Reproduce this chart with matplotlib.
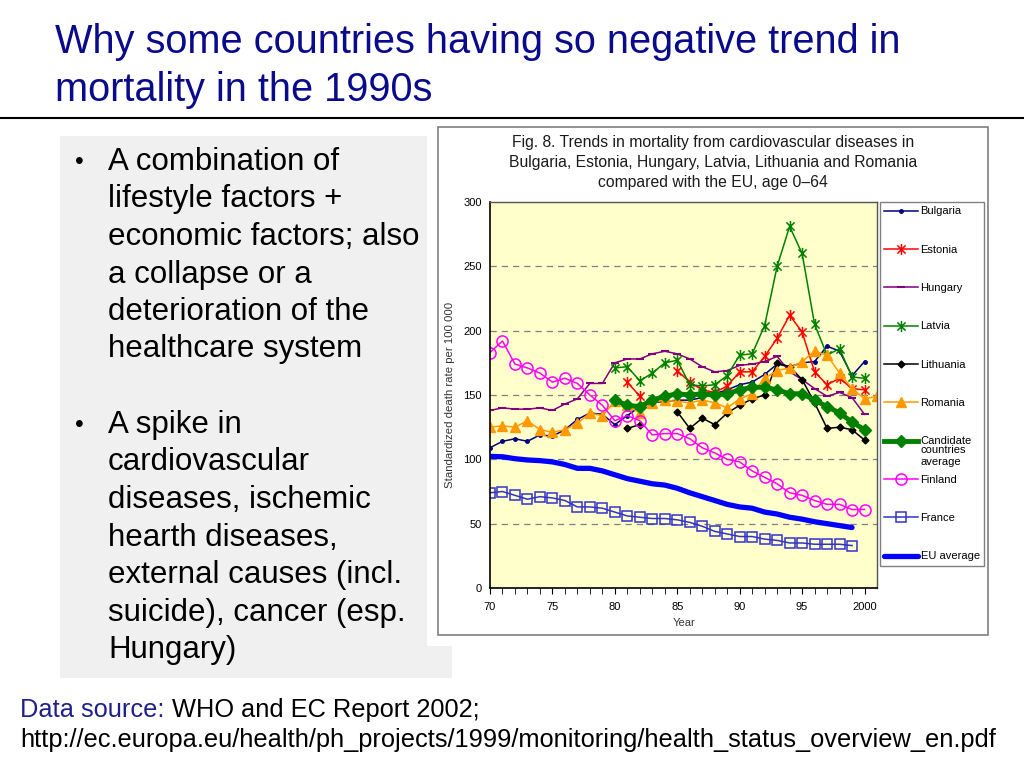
import numpy as np
import matplotlib
matplotlib.use("Agg")
import matplotlib.pyplot as plt
from matplotlib.patches import Rectangle
from matplotlib.path import Path
from matplotlib import font_manager as fm

names = {f.name for f in fm.fontManager.ttflist}
BASE = 'Liberation Sans' if 'Liberation Sans' in names else 'DejaVu Sans'
NARROW = 'Liberation Sans Narrow' if 'Liberation Sans Narrow' in names else BASE
plt.rcParams['font.family'] = [BASE, 'DejaVu Sans']

nan = np.nan
# ---------------- data ----------------
years = list(range(70, 101))          # 1970 .. 2000
years_ro = list(range(70, 102))       # Romania has a 2001 point
years_eu = list(range(70, 100))       # France / EU end in 1999

bulgaria = [109, 114, 116, 114, 119, 118, 123, 131, 136, 135,
            127, 134, 141, 144, 145, 146, 146, 148, 151, 154,
            158, 160, 166, 174, 172, 175, 176, 188, 184, 165, 176]
estonia = [nan] * 11 + [160, 149, nan, nan, 169, 160, 154, 152, 157,
                        168, 168, 180, 194, 212, 199, 168, 158, 163, 155, 154]
hungary = [138, 140, 139, 139, 140, 138, 143, 147, 159, 159,
           175, 178, 178, 182, 184, 182, 178, 172, 168, 169,
           173, 174, 176, 180, 168, 162, 155, 149, 152, 148, 135]
latvia = [nan] * 10 + [171, 172, 161, 167, 175, 177, 158, 157, 158, 165,
                       181, 182, 204, 250, 281, 260, 205, 181, 186, 164, 163]
lithuania = [nan] * 11 + [124, 127, nan, nan, 137, 124, 132, 127, 136,
                          142, 147, 150, 175, 172, 162, 144, 124, 125, 123, 115]
romania = [125, 126, 125, 130, 123, 121, 123, 128, 136, 134,
           145, 142, 136, 144, 146, 145, 144, 146, 144, 140,
           147, 151, 163, 169, 171, 176, 184, 181, 167, 155, 147, 149]
candidate = [nan] * 10 + [146, 142, 141, 146, 149, 151, 150, 151, 150, 151,
                          154, 156, 156, 154, 151, 151, 146, 141, 136, 129, 123]
finland = [183, 192, 174, 171, 167, 160, 163, 159, 150, 142,
           130, 134, 130, 119, 120, 120, 116, 109, 105, 100,
           98, 91, 86, 81, 74, 72, 68, 65, 65, 61, 61]
france = [74, 75, 72, 69, 71, 70, 68, 63, 63, 62,
          59, 56, 55, 54, 54, 53, 51, 48, 44, 42,
          40, 40, 38, 37, 35, 35, 34, 34, 34, 33]
eu_avg = [102.3, 102, 100.5, 99.5, 99, 98, 96, 93, 93, 91,
          88, 85, 83, 81, 80, 77.5, 74, 71, 68, 65,
          63, 62, 59, 57.5, 55, 53.5, 51.5, 50, 48.5, 47]

xtick_pos = [70, 75, 80, 85, 90, 95, 100]
xtick_labels = ['70', '75', '80', '85', '90', '95', '2000']
ytick_pos = [0, 50, 100, 150, 200, 250, 300]

title_lines = ["Why some countries having so negative trend in",
               "mortality in the 1990s"]
bullet1 = ["A combination of", "lifestyle factors +", "economic factors; also",
           "a collapse or a", "deterioration of the", "healthcare system"]
bullet2 = ["A spike in", "cardiovascular", "diseases, ischemic", "hearth diseases,",
           "external causes (incl.", "suicide), cancer (esp.", "Hungary)"]
chart_title = ["Fig. 8. Trends in mortality from cardiovascular diseases in",
               "Bulgaria, Estonia, Hungary, Latvia, Lithuania and Romania",
               "compared with the EU, age 0\u201364"]

# ---------------- figure ----------------
W, H = 1024, 768
fig = plt.figure(figsize=(W / 100, H / 100), dpi=100)
fig.patch.set_facecolor('white')


def fx(x):
    return x / W


def fy(y):
    return 1 - y / H


def frect(x0, y0, x1, y1, **kw):
    r = Rectangle((fx(x0), fy(y1)), fx(x1) - fx(x0), fy(y0) - fy(y1),
                  transform=fig.transFigure, **kw)
    fig.add_artist(r)
    return r


# background panels
frect(60, 136, 452, 678, facecolor='#F0F0F0', edgecolor='none', zorder=-3)
frect(427, 124, 992, 646, facecolor='white', edgecolor='none', zorder=-2)
frect(438, 127, 988, 635, facecolor='white', edgecolor='#7F7F7F', lw=1.2, zorder=-1)

# rule under title
fig.add_artist(plt.Line2D([0, 1], [fy(118), fy(118)], transform=fig.transFigure,
                          color='black', lw=1.5))

renderer = fig.canvas.get_renderer()


def fit(t, width_px):
    w = t.get_window_extent(renderer).width
    t.set_fontsize(t.get_fontsize() * width_px / w)


title_color = '#0A0A8C'
t1 = fig.text(fx(55), fy(42), title_lines[0], color=title_color, fontsize=26,
              va='center', ha='left', family=[NARROW, 'DejaVu Sans'])
fit(t1, 845)
t2 = fig.text(fx(55), fy(90), title_lines[1], color=title_color,
              fontsize=t1.get_fontsize(), va='center', ha='left',
              family=[NARROW, 'DejaVu Sans'])

# bullets
probe = fig.text(0, 0, bullet1[2], fontsize=20)
fit(probe, 310)
bfs = probe.get_fontsize()
probe.remove()
for i, line in enumerate(bullet1):
    fig.text(fx(108), fy(162 + i * 37.5), line, fontsize=bfs, va='center', ha='left')
for i, line in enumerate(bullet2):
    fig.text(fx(108), fy(425 + i * 37.5), line, fontsize=bfs, va='center', ha='left')
fig.text(fx(75), fy(162), '\u2022', fontsize=bfs * 0.8, va='center', ha='left')
fig.text(fx(75), fy(425), '\u2022', fontsize=bfs * 0.8, va='center', ha='left')

# footnote
f3 = fig.text(fx(20), fy(740),
              'http://ec.europa.eu/health/ph_projects/1999/monitoring/health_status_overview_en.pdf',
              color='black', fontsize=15, va='center', ha='left',
              family=[NARROW, 'DejaVu Sans'])
fit(f3, 977)
ffs = f3.get_fontsize()
f1 = fig.text(fx(20), fy(710), 'Data source:', color='#1F1F8A', fontsize=ffs,
              va='center', ha='left', family=[NARROW, 'DejaVu Sans'])
f2 = fig.text(fx(172), fy(710), 'WHO and EC Report 2002;', color='black',
              fontsize=ffs, va='center', ha='left', family=[NARROW, 'DejaVu Sans'])

# chart title
ct = []
for i, (line, yy) in enumerate(zip(chart_title, [142, 162.5, 183])):
    ct.append(fig.text(fx(713), fy(yy), line, fontsize=10.5, va='center', ha='center',
                       color='#1A1A1A'))
fit(ct[0], 406)
for t in ct[1:]:
    t.set_fontsize(ct[0].get_fontsize())

# ---------------- axes ----------------
ax = fig.add_axes([fx(490), fy(588), fx(877) - fx(490), fy(202) - fy(588)])
ax.set_facecolor('#FFFFCC')
ax.set_xlim(70, 101)
ax.set_ylim(0, 300)

star = Path([(-1, -1), (1, 1), (-1, 1), (1, -1), (0, -1.35), (0, 1.35)],
            [Path.MOVETO, Path.LINETO, Path.MOVETO, Path.LINETO, Path.MOVETO, Path.LINETO])

lines = []
lines.append(ax.plot(years, bulgaria, color='#000080', lw=1.1, marker='o', ms=2.5,
                     label='Bulgaria')[0])
lines.append(ax.plot(years, estonia, color='#FF0000', lw=1.1, marker=star, ms=8,
                     mew=1.1, mfc='none', label='Estonia')[0])
lines.append(ax.plot(years, hungary, color='#800080', lw=1.1, marker='_', ms=6,
                     mew=1.5, label='Hungary')[0])
lines.append(ax.plot(years, latvia, color='#008000', lw=1.1, marker=star, ms=8,
                     mew=1.1, mfc='none', label='Latvia')[0])
lines.append(ax.plot(years, lithuania, color='#000000', lw=1.1, marker='D', ms=3.5,
                     label='Lithuania')[0])
lines.append(ax.plot(years_ro, romania, color='#FF9900', lw=1.1, marker='^', ms=7,
                     label='Romania', clip_on=True)[0])
lines.append(ax.plot(years, candidate, color='#008000', lw=3.5, marker='D', ms=6,
                     label='Candidate')[0])
lines.append(ax.plot(years, finland, color='#FF00FF', lw=1.1, marker='o', ms=8,
                     mfc='none', mew=1.1, label='Finland')[0])
lines.append(ax.plot(years_eu, france, color='#3333CC', lw=1.1, marker='s', ms=7,
                     mfc='none', mew=1.1, label='France')[0])
lines.append(ax.plot(years_eu, eu_avg, color='#0000FF', lw=3.8, label='EU average',
                     solid_capstyle='round')[0])

for yv in [50, 100, 150, 200, 250]:
    ax.axhline(yv, color='#808080', lw=0.9, ls=(0, (5, 4)), zorder=0.5)

ax.set_yticks(ytick_pos)
ax.set_xticks(xtick_pos)
ax.set_xticklabels(xtick_labels)
ax.set_xticks(range(70, 101), minor=True)
ax.tick_params(axis='x', which='both', direction='out', length=4, labelsize=8,
               color='black', pad=6)
ax.tick_params(axis='y', which='both', direction='out', length=0, labelsize=8, pad=6)
for s in ['left', 'bottom']:
    ax.spines[s].set_color('black')
    ax.spines[s].set_linewidth(1.2)
for s in ['top', 'right']:
    ax.spines[s].set_color('#555555')
    ax.spines[s].set_linewidth(1.0)

yl = fig.text(fx(450), fy(395), 'Standardized death rate per 100 000', fontsize=7,
              va='center', ha='center', color='#333333')
fit(yl, 186)
yl.set_rotation(90)
fig.text(fx(684), fy(623), 'Year', fontsize=8, va='center', ha='center', color='#333333')

leg = ax.legend(handles=lines, loc='upper left', bbox_to_anchor=(fx(880), fy(202)),
                bbox_transform=fig.transFigure, borderaxespad=0, fontsize=8,
                frameon=True, fancybox=False, framealpha=1, edgecolor='#808080',
                handlelength=3.0, handletextpad=0.25, labelspacing=2.55,
                borderpad=0.4)
leg.get_frame().set_linewidth(1.0)

fig.canvas.draw()
r = fig.canvas.get_renderer()
cand_text = leg.get_texts()[6]
bb = cand_text.get_window_extent(r)
fig.text(bb.x0 / W, (bb.y0 + 1) / H, 'countries\naverage', fontsize=8, va='top', ha='left',
         linespacing=1.15)

fig.savefig('out.png', dpi=100)
